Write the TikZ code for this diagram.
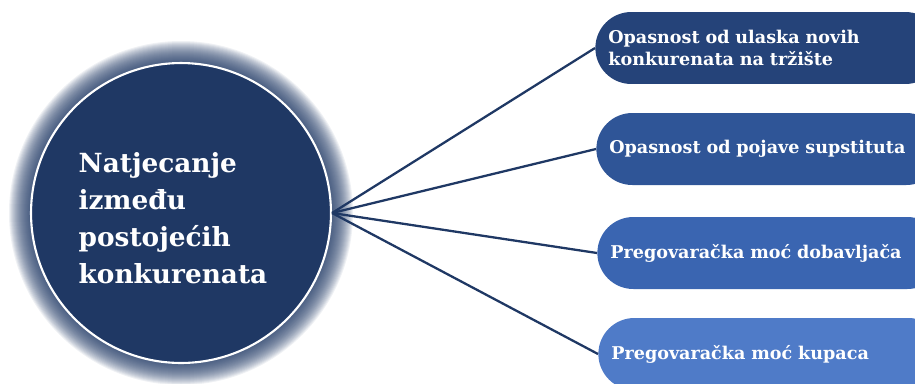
\documentclass[tikz,border=0pt]{standalone}
\usepackage{fontspec}
\setmainfont{DejaVu Serif}
\usetikzlibrary{positioning}

\definecolor{navy}{HTML}{1F3864}
\definecolor{pillA}{HTML}{254379}
\definecolor{pillB}{HTML}{2F5597}
\definecolor{pillC}{HTML}{3A65B1}
\definecolor{pillD}{HTML}{4F7BC8}

\tikzset{
	pill/.style={rounded corners=0.72cm, minimum height=1.44cm, text width=6.4cm,
		inner xsep=0.26cm, align=left, anchor=west, text=white,
		font=\bfseries\fontsize{10}{12.5}\selectfont}
}

\begin{document}
\begin{tikzpicture}[x=0.02cm,y=-0.02cm]
	\useasboundingbox (0,0) rectangle (915,383);
	\clip (0,0) rectangle (915,383);

	% glow round the circle
	\foreach \r in {172,171,...,150}
		\fill[navy, opacity=0.07] (181,213) circle (\r);
	\node[circle, fill=navy, draw=white, line width=1.2pt, minimum size=6cm] 	(comp) at (181,213) {};
	\node[text=white, align=left, font=\bfseries\fontsize{15}{21}\selectfont] 	(comptext) at (173,218)
		{Natjecanje\\između\\postojećih\\konkurenata};

	\node[pill, fill=pillA]	(entry) at (595,48)		{Opasnost od ulaska novih\\konkurenata na tržište};
	\node[pill, fill=pillB]	(subst) at (596,149)	{Opasnost od pojave supstituta};
	\node[pill, fill=pillC]	(suppl) at (597,253)	{Pregovaračka moć dobavljača};
	\node[pill, fill=pillD]	(buyer) at (598,354)	{Pregovaračka moć kupaca};

\path[-, draw=navy, line width=1.3pt]
	(comp.east)	edge	(entry.west)
	(comp.east)	edge	(subst.west)
	(comp.east)	edge	(suppl.west)
	(comp.east)	edge	(buyer.west)
;
\end{tikzpicture}
\end{document}
